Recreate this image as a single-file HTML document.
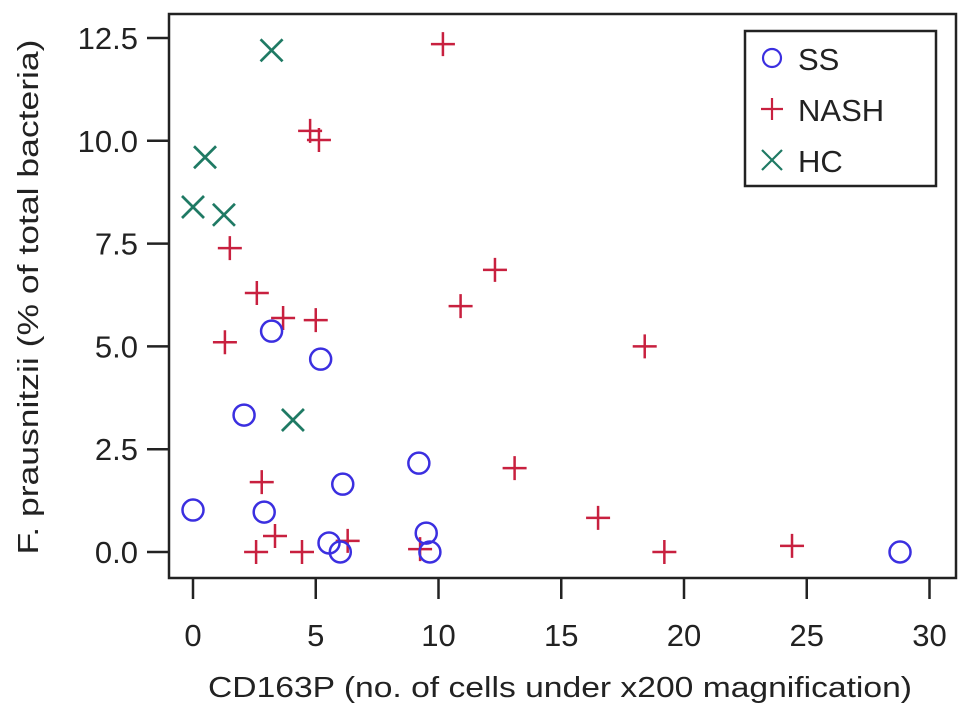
<!DOCTYPE html>
<html><head><meta charset="utf-8"><style>
body{margin:0;background:#fff}
svg{display:block;font-family:"Liberation Sans",Arial,sans-serif}
</style></head><body>
<svg id="chart" width="969" height="715" viewBox="0 0 969 715">
<rect x="169" y="14" width="787" height="564" fill="none" stroke="#222" stroke-width="2.5"/>
<g id="axes"></g>
<g id="marks"></g>
<text x="560" y="697" font-size="29" text-anchor="middle" fill="#222" textLength="704" lengthAdjust="spacingAndGlyphs">CD163P (no. of cells under x200 magnification)</text>
<text transform="translate(38,297) rotate(-90)" font-size="29" text-anchor="middle" fill="#222" textLength="515" lengthAdjust="spacingAndGlyphs">F. prausnitzii (% of total bacteria)</text>
<g>
<rect x="745" y="31" width="191" height="155" fill="#fff" stroke="#222" stroke-width="2.5"/>
<circle cx="772" cy="58" r="9" fill="none" stroke="#3b2fe0" stroke-width="2.2"/>
<text x="798" y="70" font-size="31" fill="#222">SS</text>
<path d="M761 109h22M772 98v22" stroke="#c8203f" stroke-width="2.2"/>
<text x="798" y="121" font-size="31" fill="#222">NASH</text>
<path d="M762 150l20 20M782 150l-20 20" stroke="#1f7a64" stroke-width="2.2"/>
<text x="798" y="172" font-size="31" fill="#222">HC</text>
</g>
</svg>
<script>
const xTicks=[0,5,10,15,20,25,30];
const yTicks=[0,2.5,5,7.5,10,12.5];
const yTickLabels=["0.0","2.5","5.0","7.5","10.0","12.5"];
const ssX=[0,2.9,2.08,3.2,5.2,6.1,5.54,6.0,9.2,9.5,9.65,28.8];
const ssY=[1.02,0.97,3.33,5.37,4.69,1.65,0.22,0,2.16,0.46,0,0];
const nashX=[10.18,4.77,5.13,1.5,12.3,10.9,2.6,3.67,5.0,1.3,18.4,13.1,2.8,16.5,3.34,2.57,4.44,6.3,9.25,19.2,24.4];
const nashY=[12.35,10.24,10.02,7.39,6.86,5.98,6.3,5.69,5.64,5.1,5.0,2.04,1.7,0.83,0.39,0,0,0.27,0.07,0,0.15];
const hcX=[3.2,0.49,0,1.26,4.07];
const hcY=[12.2,9.6,8.39,8.2,3.21];
const NS="http://www.w3.org/2000/svg";
const sx=v=>193+24.55*v;
const sy=v=>552-41.12*v;
const axes=document.getElementById('axes'),marks=document.getElementById('marks');
function mk(tag,attrs,parent){const e=document.createElementNS(NS,tag);for(const k in attrs)e.setAttribute(k,attrs[k]);parent.appendChild(e);return e;}
xTicks.forEach(t=>{
  const l=mk('line',{x1:sx(t),x2:sx(t),y1:578,y2:599,stroke:'#222','stroke-width':2.5},axes);
  
  
  const tx=mk('text',{x:sx(t),y:646,'font-size':31,'text-anchor':'middle',fill:'#222'},axes);
  tx.textContent=t;
  
  
});
yTicks.forEach((t,i)=>{
  const l=mk('line',{x1:147,x2:169,y1:sy(t),y2:sy(t),stroke:'#222','stroke-width':2.5},axes);
  
  
  const tx=mk('text',{x:138,y:sy(t)+11,'font-size':31,'text-anchor':'end',fill:'#222'},axes);
  tx.textContent=yTickLabels[i];
  
  
});
nashX.forEach((x,i)=>{
  const cx=sx(x),cy=sy(nashY[i]);
  const p=mk('path',{d:`M${cx-12} ${cy}h24M${cx} ${cy-12}v24`,stroke:'#c8203f','stroke-width':2.5,fill:'none'},marks);
  
  
});
hcX.forEach((x,i)=>{
  const cx=sx(x),cy=sy(hcY[i]);
  const p=mk('path',{d:`M${cx-11} ${cy-11}l22 22M${cx+11} ${cy-11}l-22 22`,stroke:'#1f7a64','stroke-width':2.7,fill:'none'},marks);
  
  
});
ssX.forEach((x,i)=>{
  const c=mk('circle',{cx:sx(x),cy:sy(ssY[i]),r:10.5,fill:'none',stroke:'#3b2fe0','stroke-width':2.5},marks);
  
  
});
</script>
</body></html>
